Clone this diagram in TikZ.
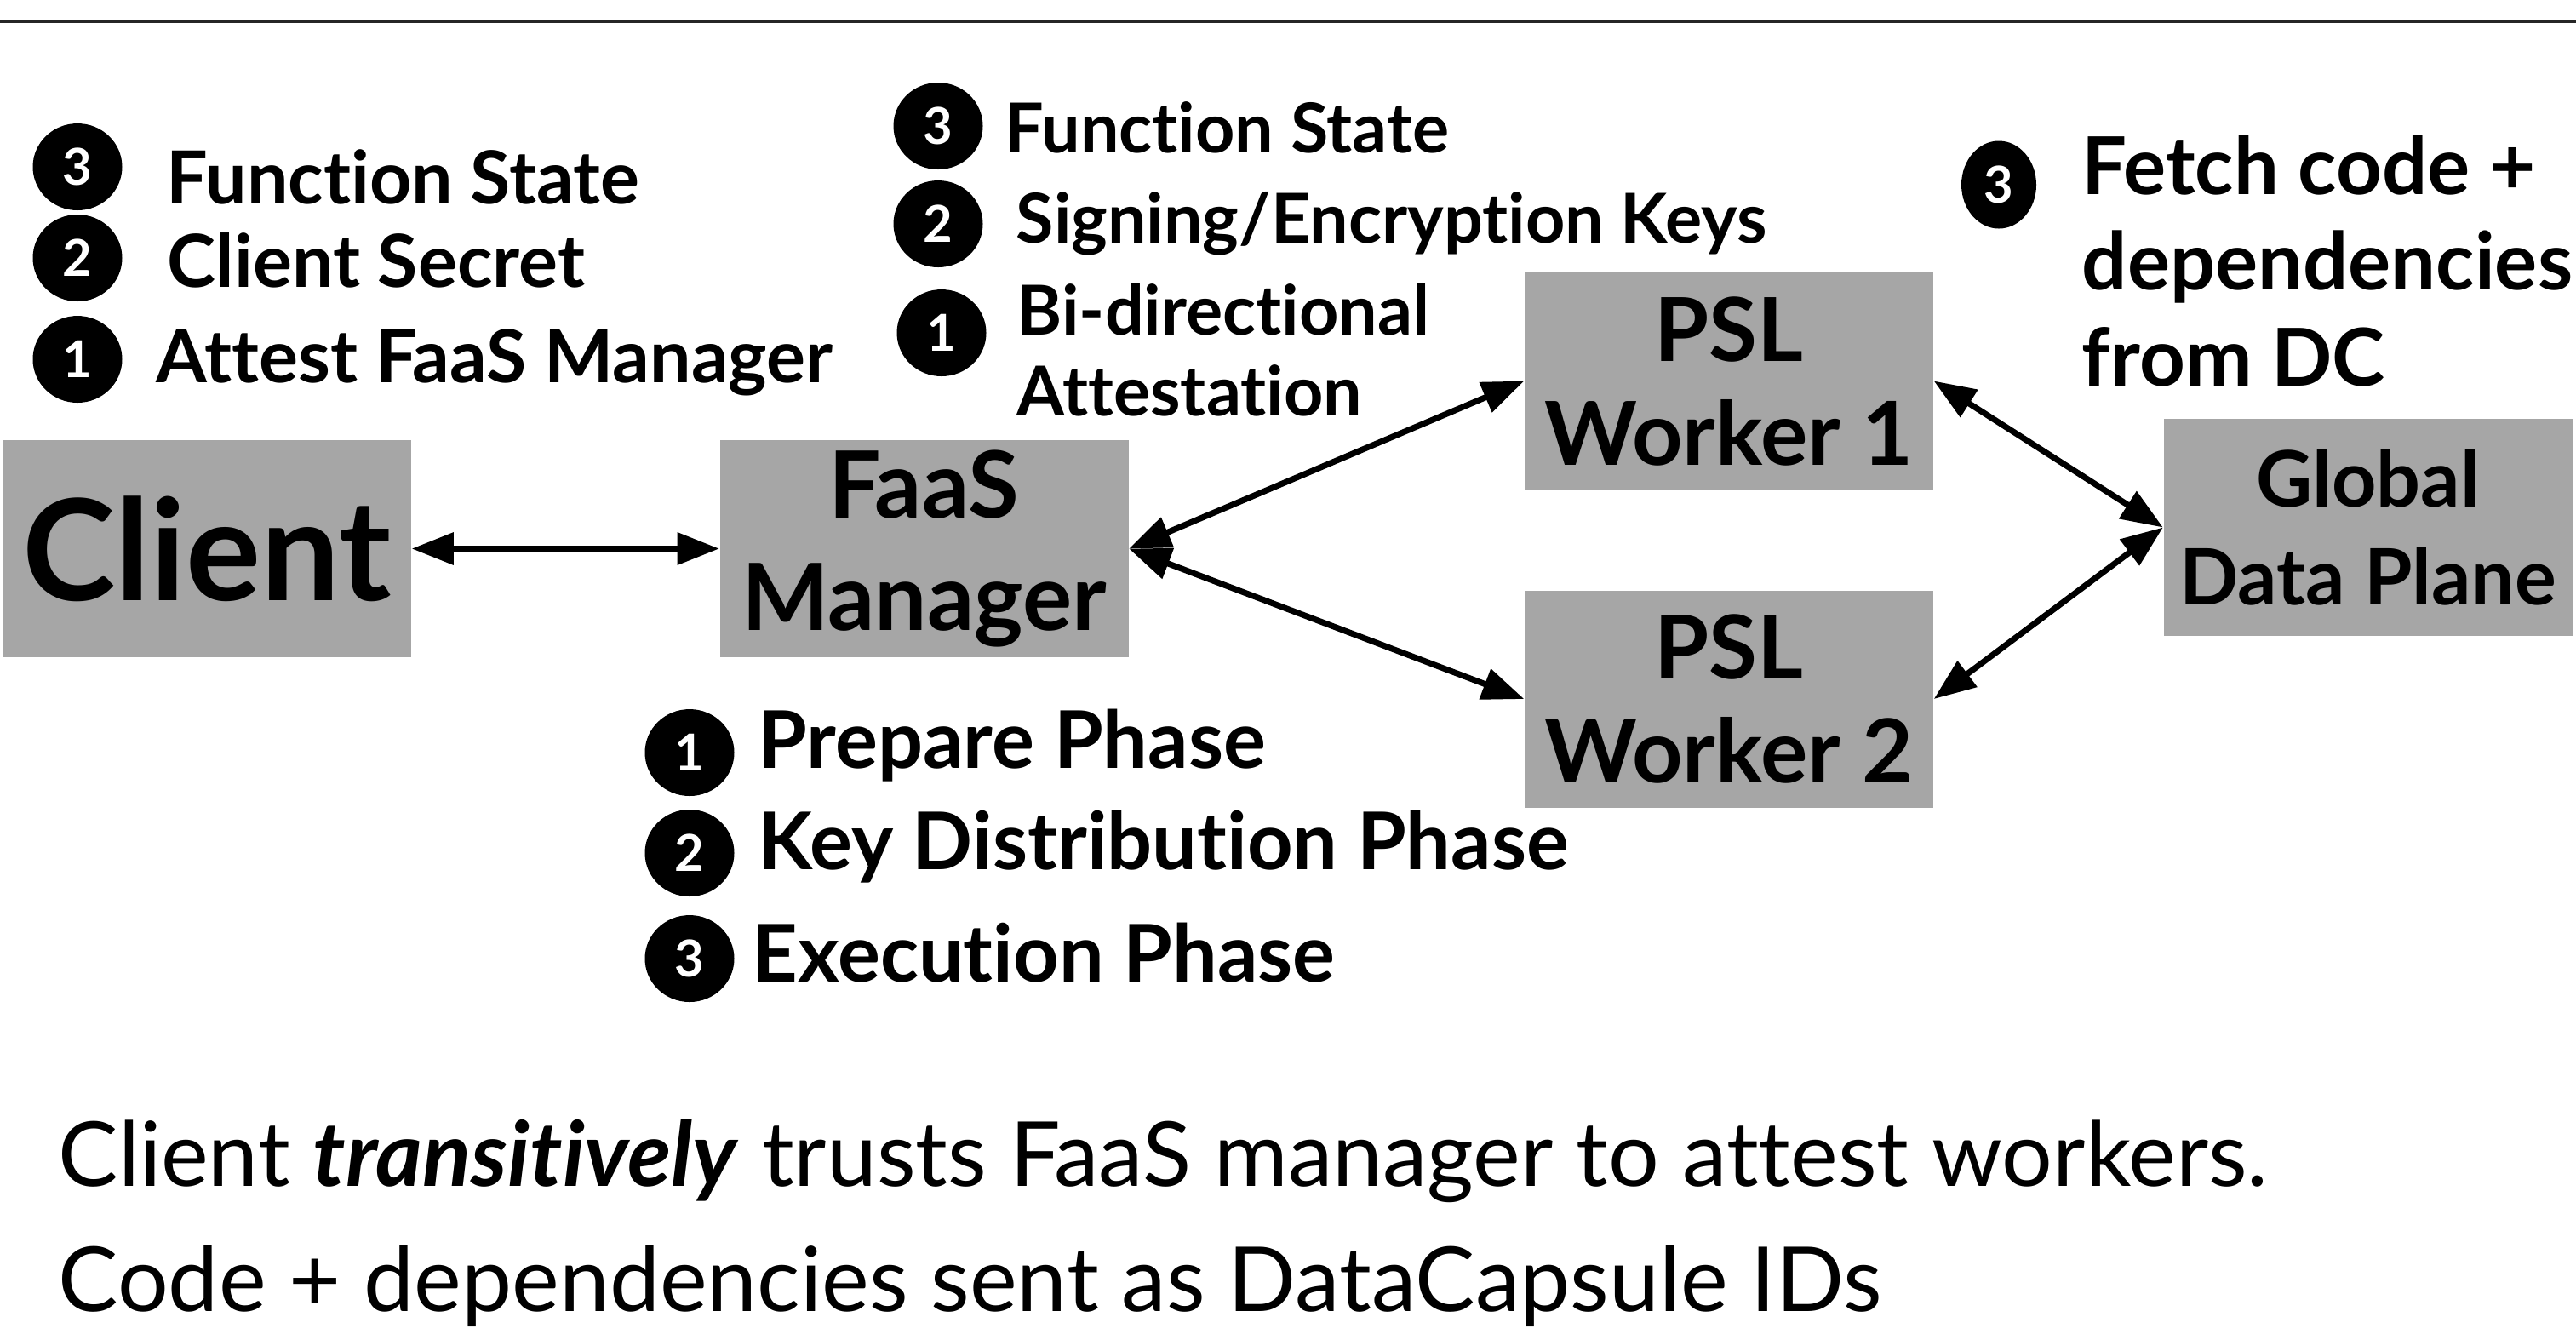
\documentclass[tikz,border=0pt]{standalone}
\usepackage{fontspec}
\setmainfont{Lato}[Ligatures=NoCommon]
\usetikzlibrary{arrows.meta,shapes.geometric}
\definecolor{boxgray}{RGB}{166,166,166}

\begin{document}
\begin{tikzpicture}
	\tikzstyle{box} = [rectangle, minimum width=4.8cm, minimum height=2.55cm, inner sep=0pt, text centered, fill=boxgray, align=center]
	\tikzstyle{badge} = [ellipse, minimum width=1.05cm, minimum height=1.02cm, inner sep=0pt, fill=black, text=white, font=\bfseries\fontsize{17}{17}\selectfont]
	\tikzstyle{note} = [anchor=base west, inner sep=0pt, align=left]
	\tikzstyle{link} = [<->, >={Triangle[length=14pt,width=10.5pt]}, line width=2pt]

	\useasboundingbox (0,0) rectangle (30.26,-15.66);
	\draw[line width=1.3pt, black!85] (0,-0.25) -- (30.26,-0.25);

	\node (client) [box, xshift=2.43cm, yshift=-6.445cm, font=\bfseries\fontsize{47}{56}\selectfont] {Client};
	\node (faas) [box, xshift=10.855cm, yshift=-6.445cm, font=\bfseries\fontsize{31}{37.5}\selectfont] {FaaS\\Manager};
	\node (worker1) [box, xshift=20.31cm, yshift=-4.475cm, font=\bfseries\fontsize{29.5}{34.7}\selectfont] {PSL\\Worker 1};
	\node (worker2) [box, xshift=20.31cm, yshift=-8.21cm, font=\bfseries\fontsize{29.5}{34.7}\selectfont] {PSL\\Worker 2};
	\node (gdp) [box, xshift=27.815cm, yshift=-6.195cm, font=\bfseries\fontsize{26}{32.7}\selectfont] {Global\\Data Plane};

	% client side steps
	\node (cb3) [badge, xshift=0.91cm, yshift=-1.96cm] {3};
	\node (cb2) [badge, xshift=0.91cm, yshift=-3.03cm] {2};
	\node (cb1) [badge, xshift=0.91cm, yshift=-4.22cm] {1};
	\node (cstate) [note, xshift=1.95cm, yshift=-2.39cm, font=\bfseries\fontsize{24.5}{30}\selectfont] {Function State};
	\node (csecret) [note, xshift=1.96cm, yshift=-3.37cm, font=\bfseries\fontsize{24.5}{30}\selectfont] {Client Secret};
	\node (cattest) [note, xshift=1.83cm, yshift=-4.49cm, font=\bfseries\fontsize{24.5}{30}\selectfont] {Attest FaaS Manager};

	% manager side steps
	\node (mb3) [badge, xshift=11.02cm, yshift=-1.48cm] {3};
	\node (mb2) [badge, xshift=11.02cm, yshift=-2.63cm] {2};
	\node (mb1) [badge, xshift=11.06cm, yshift=-3.91cm] {1};
	\node (mstate) [note, xshift=11.80cm, yshift=-1.79cm, font=\bfseries\fontsize{23}{27}\selectfont] {Function State};
	\node (mkeys) [note, xshift=11.93cm, yshift=-2.85cm, font=\bfseries\fontsize{23}{27}\selectfont] {Signing/Encryption Keys};
	\node (mattest) [note, xshift=11.94cm, yshift=-4.88cm, font=\bfseries\fontsize{23}{27}\selectfont] {Bi-directional\\Attestation};

	% worker side step
	\node (wb3) [badge, ellipse, minimum width=0.88cm, minimum height=1.03cm, xshift=23.48cm, yshift=-2.17cm] {3};
	\node (wfetch) [note, xshift=24.45cm, yshift=-4.53cm, font=\bfseries\fontsize{26.7}{31.9}\selectfont] {Fetch code +\\dependencies\\from DC};

	% phases
	\node (pb1) [badge, xshift=8.10cm, yshift=-8.84cm] {1};
	\node (pb2) [badge, xshift=8.10cm, yshift=-10.02cm] {2};
	\node (pb3) [badge, xshift=8.10cm, yshift=-11.26cm] {3};
	\node (prepare) [note, xshift=8.90cm, yshift=-9.02cm, font=\bfseries\fontsize{26.6}{32}\selectfont] {Prepare Phase};
	\node (keydist) [note, xshift=8.90cm, yshift=-10.21cm, font=\bfseries\fontsize{26.6}{32}\selectfont] {Key Distribution Phase};
	\node (execute) [note, xshift=8.83cm, yshift=-11.53cm, font=\bfseries\fontsize{26.6}{32}\selectfont] {Execution Phase};

	\draw[link] (client) -- (faas);
	\draw[link] (faas.east) -- (worker1.west);
	\draw[link] (faas.east) -- (worker2.west);
	\draw[link] (worker1.east) -- (gdp.west);
	\draw[link] (worker2.east) -- (gdp.west);

	\node (trust) [note, xshift=0.68cm, yshift=-13.93cm, font=\fontsize{30}{36}\selectfont] {Client \textbf{\textit{transitively}} trusts FaaS manager to attest workers.};
	\node (capsule) [note, xshift=0.68cm, yshift=-15.40cm, font=\fontsize{30}{36}\selectfont] {Code + dependencies sent as DataCapsule IDs};
\end{tikzpicture}
\end{document}
